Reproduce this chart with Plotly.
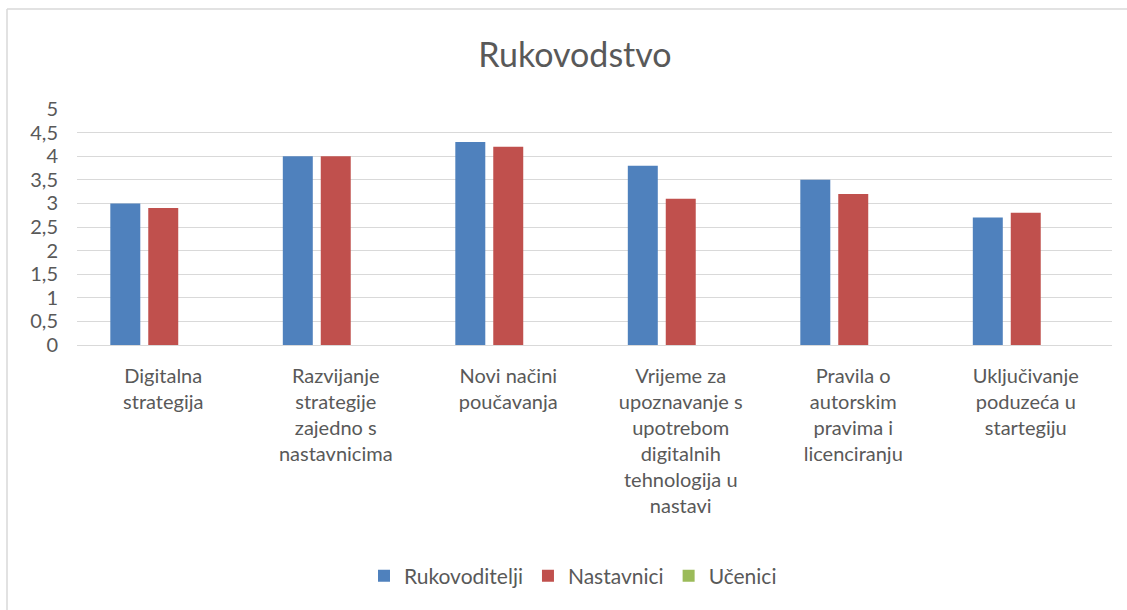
import plotly.graph_objects as go

categories = [
    "Digitalna<br>strategija",
    "Razvijanje<br>strategije<br>zajedno s<br>nastavnicima",
    "Novi načini<br>poučavanja",
    "Vrijeme za<br>upoznavanje s<br>upotrebom<br>digitalnih<br>tehnologija u<br>nastavi",
    "Pravila o<br>autorskim<br>pravima i<br>licenciranju",
    "Uključivanje<br>poduzeća u<br>startegiju",
]
rukovoditelji = [3.0, 4.0, 4.3, 3.8, 3.5, 2.7]
nastavnici = [2.9, 4.0, 4.2, 3.1, 3.2, 2.8]
ucenici = [0, 0, 0, 0, 0, 0]
y_ticks = [0, 0.5, 1, 1.5, 2, 2.5, 3, 3.5, 4, 4.5, 5]

FONT = "Lato, 'Open Sans', sans-serif"
GRAY = "#595959"

fig = go.Figure()
fig.add_trace(go.Bar(name="Rukovoditelji", x=categories, y=rukovoditelji,
                     marker=dict(color="#4f81bd", line=dict(width=0))))
fig.add_trace(go.Bar(name="Nastavnici", x=categories, y=nastavnici,
                     marker=dict(color="#c0504d", line=dict(width=0))))
fig.add_trace(go.Bar(name="Učenici", x=categories, y=ucenici,
                     marker=dict(color="#9bbb59", line=dict(width=0))))

L, R, T, B = 77, 15, 109, 265
W, H = 1127, 610
pw, ph = W - L - R, H - T - B

fig.update_layout(
    width=W, height=H,
    margin=dict(l=L, r=R, t=T, b=B),
    paper_bgcolor="white", plot_bgcolor="white",
    separators=", ",
    barmode="group", bargap=0.34, bargroupgap=0.21,
    font=dict(family=FONT, color=GRAY, size=20),
    title=dict(text="Rukovodstvo", x=(575 - L) / pw, xref="paper", xanchor="center",
               y=1 - 55 / H, yanchor="middle",
               font=dict(family=FONT, size=34, color=GRAY)),
    legend=dict(orientation="h", x=(573 - L) / pw, xanchor="center",
                y=(H - B - 576) / ph, yanchor="middle",
                font=dict(family=FONT, size=21, color=GRAY),
                itemwidth=30, traceorder="normal"),
    showlegend=True,
)
fig.update_xaxes(showgrid=False, showline=False, ticks="", tickangle=0,
                 ticklabelstandoff=17,
                 tickfont=dict(family=FONT, size=20, color=GRAY))
fig.update_yaxes(range=[0, 5], tickvals=y_ticks, showgrid=True, gridcolor="#d9d9d9",
                 gridwidth=1, zeroline=True, zerolinecolor="#d9d9d9", zerolinewidth=1,
                 showline=False, ticks="", ticklabelstandoff=18,
                 tickfont=dict(family=FONT, size=20, color=GRAY))

# outer chart border (light gray), visible on left and top only
bx0 = (7 - L) / pw
bx1 = (W + 20 - L) / pw
by_top = (H - B - 9) / ph
by_bot = (H - B - (H + 20)) / ph
fig.add_shape(type="line", xref="paper", yref="paper", x0=bx0, x1=bx1, y0=by_top, y1=by_top,
              line=dict(color="#d9d9d9", width=1.5), layer="below")
fig.add_shape(type="line", xref="paper", yref="paper", x0=bx0, x1=bx0, y0=by_bot, y1=by_top,
              line=dict(color="#d9d9d9", width=1.5), layer="below")

fig.write_html(
    "out.html", config={"displayModeBar": False},
    post_script=("document.documentElement.style.overflow='hidden';"
                 "document.documentElement.style.margin='0px';"
                 "document.body.style.margin='0px';document.body.style.overflow='hidden';"),
)
